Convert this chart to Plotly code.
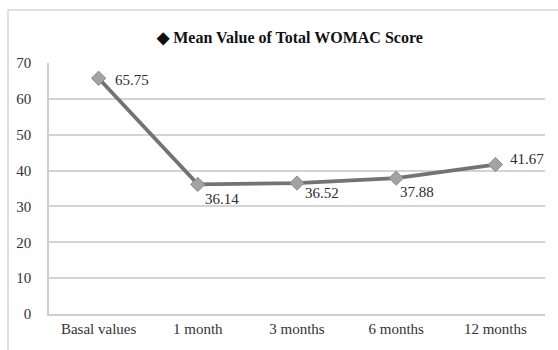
import plotly.graph_objects as go

# Mean total WOMAC score at each follow-up visit
periods = ["Basal values", "1 month", "3 months", "6 months", "12 months"]
womac_mean = [65.75, 36.14, 36.52, 37.88, 41.67]
y_ticks = [0, 10, 20, 30, 40, 50, 60, 70]

# pixel offsets of each value label from its marker
label_dx = [14, 5, 6, 2, 13]
label_dy = [-2, -15, -10, -14, 6]

W, H = 558, 350
ML, MR, MT, MB = 49, 13, 63, 36
pw, ph = W - ML - MR, H - MT - MB

serif = "Liberation Serif, Times New Roman, serif"

fig = go.Figure()
fig.add_trace(go.Scatter(
    x=periods,
    y=womac_mean,
    mode="lines+markers",
    line=dict(color="#737373", width=3.8),
    marker=dict(symbol="diamond", size=11, color="#a3a3a3",
                line=dict(color="#8c8c8c", width=1)),
    cliponaxis=False,
    showlegend=False,
))

for p, v, dx, dy in zip(periods, womac_mean, label_dx, label_dy):
    fig.add_annotation(
        x=p, y=v, text=f"{v:.2f}", showarrow=False,
        xanchor="left", yanchor="middle", xshift=dx, yshift=dy,
        font=dict(family=serif, size=15, color="#2e2e2e"),
    )

# light outer frame around the whole chart
fig.add_shape(type="rect", xref="paper", yref="paper",
              x0=(8 - ML) / pw, x1=(W + 20 - ML) / pw,
              y0=-(MB + 20) / ph, y1=(ph + MT - 10) / ph,
              line=dict(color="#d6d6d6", width=1.5), fillcolor="rgba(0,0,0,0)",
              layer="below")

fig.update_layout(
    width=W, height=H,
    margin=dict(l=ML, r=MR, t=MT, b=MB),
    paper_bgcolor="white",
    plot_bgcolor="white",
    font=dict(family=serif, color="#333333"),
    title=dict(
        text="<b>\u25c6 Mean Value of Total WOMAC Score</b>",
        x=290 / W, xanchor="center",
        y=1 - 37 / H, yanchor="middle",
        font=dict(family=serif, size=16, color="#111111"),
    ),
    xaxis=dict(
        type="category",
        showgrid=False,
        showline=True, linecolor="#cfcfcf", linewidth=1.5,
        ticks="",
        tickfont=dict(family=serif, size=15, color="#333333"),
        range=[-0.5, 4.5],
    ),
    yaxis=dict(
        range=[0, 70],
        tickvals=y_ticks,
        showgrid=True, gridcolor="#d4d4d4", gridwidth=1.5,
        showline=True, linecolor="#cfcfcf", linewidth=1.5,
        zeroline=False,
        ticks="",
        ticklabelstandoff=13,
        tickfont=dict(family=serif, size=15, color="#333333"),
    ),
)

fig.write_html("out.html")
